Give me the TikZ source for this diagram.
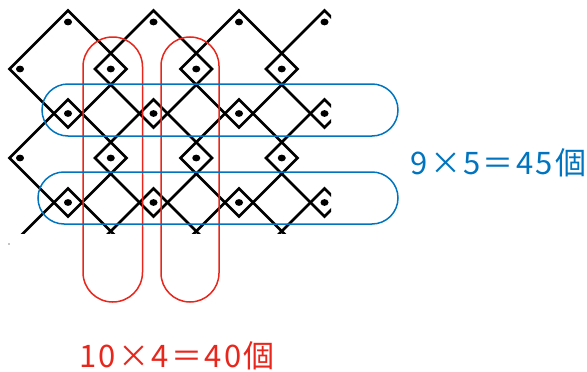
\documentclass[tikz,border=0pt]{standalone}
\usepackage{fontspec}
\newfontfamily\jpfont{Noto Sans CJK JP}
\definecolor{loopred}{RGB}{232,38,28}
\definecolor{loopblue}{RGB}{0,116,190}
\newcommand\eqgap{\kern2.3pt}
\begin{document}
\begin{tikzpicture}[x=1pt,y=-1pt,
  lattice/.style={draw=black,line width=2.8pt,line join=miter},
  bolt/.style={fill=black,draw=none},
  redloop/.style={draw=loopred,line width=1.5pt},
  blueloop/.style={draw=loopblue,line width=1.5pt},
  eqtext/.style={font=\jpfont\fontsize{31}{31}\selectfont,inner sep=0pt}]
\useasboundingbox (0,0) rectangle (587,372);
% lattice of overlapping square frames, cut off at the right and bottom
\begin{scope}
  \clip (0,0) rectangle (331,233);
  \foreach \i in {0,...,3}{
    \foreach \j in {0,1,2}{
      \pgfmathsetmacro\cx{68+85.5*\i}
      \pgfmathsetmacro\cy{69+89*\j}
      \draw[lattice] (\cx-58.5,\cy) -- (\cx,\cy-58.5) -- (\cx+58.5,\cy)
        -- (\cx,\cy+58.5) -- cycle;
    }
  }
  % bolts where neighbouring frames overlap side by side
  \foreach \x in {110.75,196.25,281.75}{
    \foreach \y in {69,158}{
      \fill[bolt] (\x,\y) ellipse [x radius=4,y radius=3.4];
    }
  }
  % bolts where frames overlap one above the other
  \foreach \x in {68,153.5,239,324.5}{
    \foreach \y in {113.5,202.5}{
      \fill[bolt] (\x,\y) ellipse [x radius=4,y radius=3.4];
    }
    \fill[bolt] (\x,22) ellipse [x radius=4,y radius=3.4];
  }
  % bolts at the outer left corners
  \fill[bolt] (20,69) ellipse [x radius=4,y radius=3.4];
  \fill[bolt] (20,158) ellipse [x radius=4,y radius=3.4];
\end{scope}
\fill[black] (9,244) circle (0.7);
% column groups
\draw[redloop,rounded corners=29.7pt] (83,37) rectangle (142.5,302);
\draw[redloop,rounded corners=29pt] (161,37) rectangle (219,302);
% row groups
\draw[blueloop,rounded corners=26pt] (42,84) rectangle (398,136);
\draw[blueloop,rounded corners=26pt] (38,172) rectangle (398,224);
% counts
\node[eqtext,text=loopblue] (rowcount) at (498.5,163)
  {9\eqgap{}×\eqgap{}5\eqgap{}＝\eqgap{}4\eqgap{}5\eqgap{}個};
\node[eqtext,text=loopred] (colcount) at (177,356)
  {1\eqgap{}0\eqgap{}×\eqgap{}4\eqgap{}＝\eqgap{}4\eqgap{}0\eqgap{}個};
\end{tikzpicture}
\end{document}
